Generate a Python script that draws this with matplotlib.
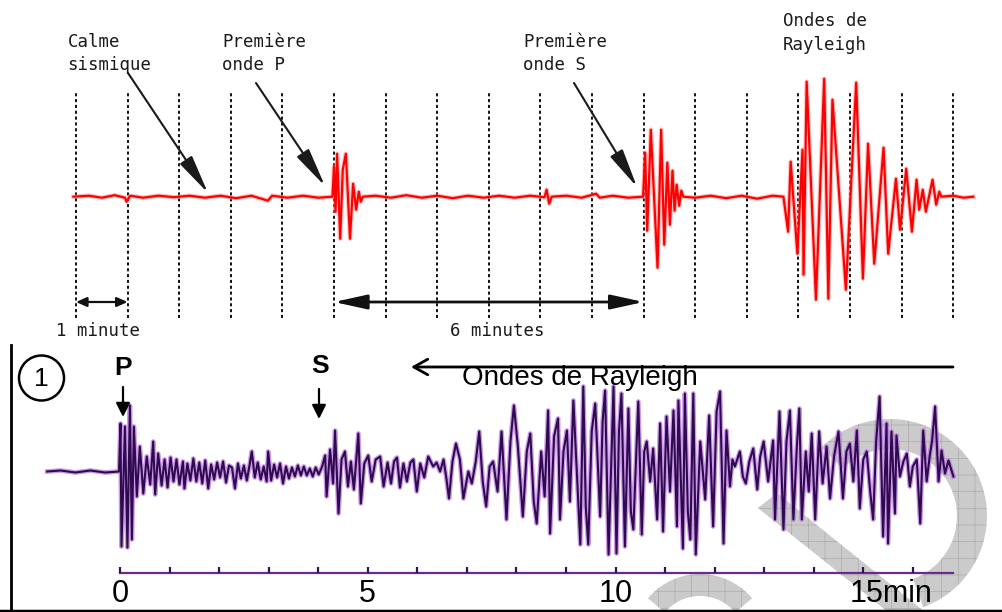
import numpy as np
import matplotlib.pyplot as plt
from matplotlib.patches import Circle, Wedge, Polygon

#--------Donnees--------#
# sismogramme du haut (minutes, amplitude)
haut_trace = [(-0.05, 0), (0.25, 1), (0.5, -1), (0.75, 1.5), (0.95, -1), (0.98, -5), (1.05, 1),
              (1.3, -1), (1.6, 1), (1.9, -0.5), (2.2, 1), (2.5, -1), (2.8, 1), (3.1, -1.5), (3.4, 1),
              (3.72, -4), (3.8, 1), (4.1, -1), (4.4, 1), (4.7, -1), (4.97, 0),
              (5.00, 30), (5.03, -15), (5.06, 43), (5.12, -42), (5.17, 27), (5.23, 43), (5.31, -42),
              (5.37, 13), (5.43, -13), (5.48, 5), (5.52, -5), (5.56, 0),
              (5.8, 1), (6.1, -1), (6.4, 1.5), (6.7, -1), (7.0, 1), (7.3, -1.5), (7.6, 1), (7.9, -1),
              (8.2, 1), (8.5, -1), (8.8, 1), (9.08, -0.5), (9.12, 7), (9.17, -7), (9.22, 0), (9.5, 1),
              (9.8, -1), (10.08, 3), (10.15, -1), (10.4, 1), (10.7, -1), (10.99, 0),
              (11.03, 44), (11.07, -34), (11.14, 67), (11.27, -71), (11.34, 67), (11.40, -48),
              (11.46, 34), (11.51, -28), (11.56, 26), (11.60, -14), (11.64, 12), (11.69, -9),
              (11.73, 6), (11.77, 0),
              (12.0, -1), (12.3, 1), (12.6, -1.5), (12.9, 1), (13.2, -2), (13.5, 1), (13.71, 0),
              (13.80, -35), (13.85, 35), (13.98, -57), (14.08, 47), (14.10, -78), (14.16, 115),
              (14.34, -103), (14.50, 118), (14.58, -102), (14.66, 97), (14.92, -93), (15.12, 114),
              (15.25, -82), (15.35, 53), (15.47, -67), (15.65, 49), (15.74, -57), (15.89, 18),
              (15.97, -33), (16.09, 28), (16.20, -35), (16.29, 17), (16.34, -13), (16.41, 7),
              (16.47, -15), (16.60, 17), (16.67, -8), (16.73, 5), (16.77, 0),
              (17.0, 1), (17.2, -1), (17.39, 0)]

# sismogramme du bas (minutes, amplitude)
bas_trace = [(-1.47, 0), (-1.2, 1), (-0.9, -1), (-0.6, 1), (-0.3, -1), (-0.02, 0),
             (0.01, 48), (0.03, -75), (0.10, 45), (0.15, -76), (0.20, 66), (0.24, -68), (0.28, 45),
             (0.34, -25), (0.40, 25), (0.47, -22), (0.54, 15), (0.61, -13), (0.67, 30), (0.71, -23),
             (0.77, 18), (0.84, -14), (0.90, 12), (0.96, -16), (1.02, 14), (1.08, -10), (1.14, 12),
             (1.20, -13), (1.27, 10), (1.30, -17), (1.36, 8), (1.42, -9), (1.48, 13), (1.54, -10),
             (1.60, 9), (1.66, -12), (1.72, 11), (1.78, -17), (1.84, 7), (1.90, -8), (1.96, 9),
             (2.02, -6), (2.08, 10), (2.14, -11), (2.20, 6), (2.26, 4), (2.32, -17), (2.38, 8),
             (2.44, -7), (2.50, 6), (2.56, -9), (2.62, 8), (2.66, 20), (2.72, -6), (2.78, 9),
             (2.84, -8), (2.90, 5), (2.96, -10), (2.99, 20), (3.05, -9), (3.11, 7), (3.17, -6),
             (3.23, 8), (3.29, -12), (3.35, 5), (3.41, -7), (3.47, 4), (3.53, -5), (3.59, 6),
             (3.65, -4), (3.71, 5), (3.77, -4), (3.83, 3), (3.89, -5), (3.95, 4), (4.01, -3),
             (4.08, 5),
             (4.14, 16), (4.17, -25), (4.24, 22), (4.30, -12), (4.34, 41), (4.41, -42), (4.47, 12),
             (4.54, 20), (4.60, -15), (4.66, 10), (4.72, -18), (4.81, 38), (4.86, -32), (4.93, 8),
             (5.01, 16), (5.08, -10), (5.16, 12), (5.25, 15), (5.32, -15), (5.40, 9), (5.47, -12),
             (5.53, 10), (5.59, 14), (5.65, -16), (5.72, 8), (5.79, -10), (5.86, 9), (5.92, 12),
             (5.99, -20), (6.06, 8), (6.14, -6), (6.22, 15), (6.32, 5), (6.39, 9), (6.46, 0),
             (6.53, 12), (6.59, -8), (6.64, -27), (6.71, 10), (6.78, 28), (6.86, 12), (6.93, -27),
             (7.03, 0), (7.10, -12), (7.18, 10), (7.25, 40), (7.32, -10), (7.39, -35), (7.46, 5),
             (7.53, 10), (7.62, -20), (7.70, 40), (7.80, -48), (7.88, 30), (7.95, 66), (8.03, 25),
             (8.13, -45), (8.21, 20), (8.28, 38), (8.35, -30), (8.41, -52), (8.50, 20), (8.57, -25),
             (8.64, 61), (8.68, -62), (8.76, 35), (8.84, 53), (8.88, -48), (8.95, 20), (9.02, 41),
             (9.08, -30), (9.15, 71), (9.29, -73), (9.35, 85), (9.40, -35), (9.45, -73), (9.52, 40),
             (9.59, 68), (9.69, -45), (9.74, 50), (9.79, 81), (9.86, -83), (9.96, 85), (10.02, -82),
             (10.07, 40), (10.12, 78), (10.19, -75), (10.26, 63), (10.31, -40), (10.36, -58),
             (10.46, 70), (10.53, -63), (10.58, 20), (10.63, 30), (10.70, -10), (10.76, 23),
             (10.84, -48), (10.90, 48), (10.96, -60), (11.03, 55), (11.10, -20), (11.17, 61),
             (11.24, -55), (11.27, 71), (11.36, -77), (11.40, 78), (11.46, -40), (11.51, -68),
             (11.57, 78), (11.62, -83), (11.71, 30), (11.81, -28), (11.89, 56), (11.97, -55),
             (12.04, 60), (12.11, 80), (12.18, -72), (12.24, 41), (12.31, -15), (12.36, 12),
             (12.41, 5), (12.51, 20), (12.57, -5), (12.63, -12), (12.70, 10), (12.78, 23),
             (12.86, -18), (12.92, 15), (12.99, 30), (13.08, -10), (13.18, 31), (13.22, -48),
             (13.31, 60), (13.39, -58), (13.45, 30), (13.52, 61), (13.59, -48), (13.66, 25),
             (13.71, 63), (13.76, -48), (13.84, 20), (13.90, -20), (13.96, 38), (14.03, -48),
             (14.11, 40), (14.18, -12), (14.26, 25), (14.33, -27), (14.41, 15), (14.50, 40),
             (14.59, -27), (14.66, 20), (14.73, 28), (14.80, -10), (14.87, 41), (14.93, -37),
             (15.00, 12), (15.07, 20), (15.14, -20), (15.20, -48), (15.26, 30), (15.33, 75),
             (15.40, -65), (15.47, 48), (15.50, -72), (15.57, 40), (15.64, -42), (15.67, 36),
             (15.74, -5), (15.81, 10), (15.88, 18), (15.94, -15), (16.00, 5), (16.08, 12),
             (16.15, -52), (16.21, 41), (16.28, -10), (16.34, 15), (16.39, 31), (16.45, 65),
             (16.52, -10), (16.58, 21), (16.65, -2), (16.72, 11), (16.82, -5)]

minutes_grille = list(range(0, 18))
graduations = list(range(0, 17))
etiquettes_pos = [0, 5, 10]
etiquettes = ['0', '5', '10']
#------------------------#

plt.rcParams['hatch.linewidth'] = 0.5

fig = plt.figure(figsize=(10.02, 6.12), dpi=100)

#------Fond (filigrane)------#
ax_f = fig.add_axes([0, 0, 1, 1], zorder=0)
ax_f.set_xlim(0, 1002)
ax_f.set_ylim(612, 0)
ax_f.axis('off')
wm = dict(facecolor='#cbcbcb', edgecolor='#acacac', hatch='+', linewidth=0)
ax_f.add_patch(Wedge((890, 516), 97, -135, 70, width=30, **wm))
ax_f.add_patch(Wedge((700, 642), 68, -140, -40, width=22, **wm))
ax_f.add_patch(Polygon([(758, 508), (777, 493), (925, 612), (888, 612)], closed=True, **wm))

#------Sismogramme du haut------#
ax_t = fig.add_axes([0, 272 / 612, 1, 340 / 612], zorder=1)
ax_t.set_xlim(-76 / 51.6, 926 / 51.6)
ax_t.set_ylim(-143.3, 196.7)
ax_t.axis('off')
ax_t.patch.set_alpha(0)
ax_t.vlines(minutes_grille, -121.3, 104.7, colors='#111111', linestyles=(0, (1.6, 1.4)), lw=1.4)
ht, ha_ = zip(*haut_trace)
ax_t.plot(ht, ha_, color='#ff8080', lw=3.2, alpha=0.5, solid_joinstyle='round')
ax_t.plot(ht, ha_, color='#ff0000', lw=1.6, solid_joinstyle='round')
ax_t.annotate('', xy=(0, -105.3), xytext=(1, -105.3),
              arrowprops=dict(arrowstyle='<|-|>,head_length=0.45,head_width=0.2', mutation_scale=14,
                              lw=1.6, color='#111111', shrinkA=0, shrinkB=0))
ax_t.annotate('', xy=(5, -105.3), xytext=(11, -105.3),
              arrowprops=dict(arrowstyle='<|-|>,head_length=1.0,head_width=0.22', mutation_scale=20,
                              lw=2, color='#111111', shrinkA=0, shrinkB=0))

#------Sismogramme du bas------#
ax_b = fig.add_axes([0, 0, 1, 272 / 612], zorder=1)
ax_b.set_xlim(-120 / 49.55, 882 / 49.55)
ax_b.set_ylim(-140.5, 131.5)
ax_b.axis('off')
ax_b.patch.set_alpha(0)
bt, ba = zip(*bas_trace)
ax_b.plot(bt, ba, color='#b86ee0', lw=3.4, alpha=0.7)
ax_b.plot(bt, ba, color='#2e0a4e', lw=1.5)
ax_b.plot([0, 16.82], [-101.8, -101.8], color='#6a2a8a', lw=1.6)
ax_b.vlines(graduations, -101.8, -95.5, colors='#3a0c5c', lw=1.6)
for p, e in zip(etiquettes_pos, etiquettes):
    ax_b.text(p, -130.2, e, ha='center', va='baseline', fontsize=22,
              family=['Liberation Sans Narrow', 'Liberation Sans'])
ax_b.text(14.73, -130.2, '15min', ha='left', va='baseline', fontsize=22,
          family=['Liberation Sans Narrow', 'Liberation Sans'])

#------Textes et fleches------#
ax_o = fig.add_axes([0, 0, 1, 1], zorder=2)
ax_o.set_xlim(0, 1002)
ax_o.set_ylim(612, 0)
ax_o.axis('off')
ax_o.patch.set_alpha(0)

mono = dict(family='DejaVu Sans Mono', fontsize=12.5, color='#1a1a1a', va='baseline')
ax_o.text(68, 46.7, 'Calme', **mono)
ax_o.text(67, 70, 'sismique', **mono)
ax_o.text(222, 46.7, 'Première', **mono)
ax_o.text(222, 70, 'onde P', **mono)
ax_o.text(523, 46.7, 'Première', **mono)
ax_o.text(523, 70, 'onde S', **mono)
ax_o.text(783, 26, 'Ondes de', **mono)
ax_o.text(783, 50, 'Rayleigh', **mono)
ax_o.text(56, 336, '1 minute', **mono)
ax_o.text(450, 336, '6 minutes', **mono)

fl = dict(arrowstyle='-|>,head_length=1.2,head_width=0.22', mutation_scale=20, lw=1.5,
          color='#1a1a1a', shrinkA=0, shrinkB=0)
ax_o.annotate('', xy=(208, 193), xytext=(128, 73), arrowprops=fl)
ax_o.annotate('', xy=(325, 186), xytext=(256, 83), arrowprops=fl)
ax_o.annotate('', xy=(637, 187), xytext=(574, 83), arrowprops=fl)

# cadre du bas
ax_o.plot([11, 11], [345, 611], color='black', lw=2)
ax_o.plot([0, 1002], [610.5, 610.5], color='black', lw=2.5)

ax_o.add_patch(Circle((41.5, 378), 22.5, fill=False, lw=1.8, color='black'))
ax_o.text(41.5, 379, '1', ha='center', va='center', fontsize=19, family='Liberation Sans')
ax_o.text(123, 375, 'P', ha='center', va='baseline', fontsize=19, fontweight='bold',
          family='Liberation Sans')
ax_o.text(320, 373, 'S', ha='center', va='baseline', fontsize=19, fontweight='bold',
          family='Liberation Sans')
fb = dict(arrowstyle='-|>,head_length=0.6,head_width=0.3', mutation_scale=14, lw=1.6,
          color='black', shrinkA=0, shrinkB=0)
ax_o.annotate('', xy=(123, 417), xytext=(123, 387), arrowprops=fb)
ax_o.annotate('', xy=(319, 419), xytext=(319, 389), arrowprops=fb)
ax_o.annotate('', xy=(411, 367), xytext=(953, 367),
              arrowprops=dict(arrowstyle='->,head_length=0.5,head_width=0.28', mutation_scale=20,
                              lw=2, color='black', shrinkA=0, shrinkB=0))
ax_o.text(462, 385, 'Ondes de Rayleigh', ha='left', va='baseline', fontsize=20,
          family='Liberation Sans')

fig.savefig('out.png', dpi=100)
